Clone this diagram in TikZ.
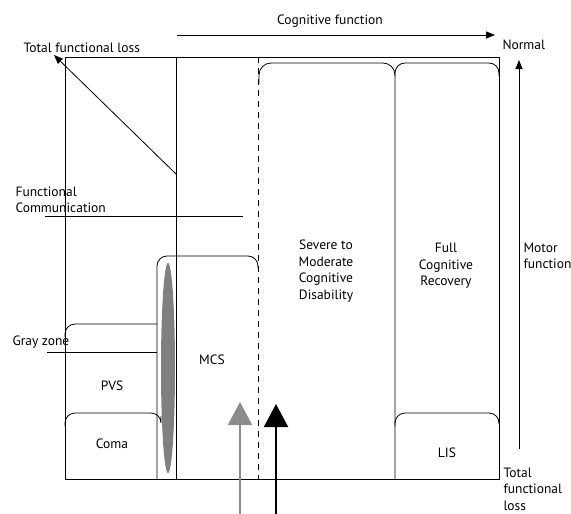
\documentclass[tikz,border=0pt]{standalone}
\usepackage{fontspec}
\setmainfont{PT Sans}
\usepackage{tikz}
\usetikzlibrary{arrows.meta}
\definecolor{zonegray}{HTML}{808080}
\definecolor{arrowgray}{HTML}{8C8C8C}

\begin{document}
\begin{tikzpicture}[x=1pt, y=-1pt, every node/.style={font=\fontsize{13.5}{16.5}\selectfont},
    thinline/.style={line width=0.8pt},
    axisarrow/.style={line width=0.8pt, -{Triangle[length=9pt,width=7pt]}},
    bigarrow/.style={line width=2pt, -{Triangle[length=23pt,width=24pt]}}]
  \useasboundingbox (0,0) rectangle (571,514);
  \coordinate (TL) at (65,57);
  \coordinate (BR) at (499,479);
  \coordinate (IT) at (176,57);
  \coordinate (IB) at (176,479);
  \coordinate (IM) at (176,174);
  \coordinate (DT) at (258,57);
  \coordinate (DB) at (258,479);
  \coordinate (CA) at (177,35);
  \coordinate (CB) at (495,35);
  \coordinate (MA) at (519,449);
  \coordinate (MB) at (519,60);
  \coordinate (LT) at (54,55);
  \coordinate (FA) at (45,216);
  \coordinate (FB) at (243,216);
  \coordinate (GA) at (47,352);
  \coordinate (GB) at (157,352);
  \coordinate (GRA) at (240,514);
  \coordinate (GRB) at (240,402);
  \coordinate (BLA) at (276,514);
  \coordinate (BLB) at (276,404);
  % frame and main dividers
  \draw[thinline] (TL) rectangle (BR);
  \draw[thinline] (IT)--(IB);
  \draw[thinline, dash pattern=on 6pt off 5pt] (DT)--(DB);
  \draw[axisarrow] (IM)--(LT);
  \draw[axisarrow] (CA)--(CB);
  \draw[axisarrow] (MA)--(MB);
  \draw[thinline] (FA)--(FB);
  % boxes with rounded tops
  \draw[thinline, rounded corners=12pt] (259,84) |- (395,63) -- (395,479);
  \draw[thinline, rounded corners=10pt] (395,76) |- (499,63) -- (499,76);
  \draw[thinline, rounded corners=10pt] (395,426) |- (499,413) -- (499,424);
  \draw[thinline, rounded corners=10pt] (157,479) |- (258,256) -- (258,268);
  \draw[thinline, rounded corners=10pt] (65,337) |- (157,324);
  \draw[thinline] (GA)--(GB);
  \draw[thinline, rounded corners=10pt] (65,426) |- (161,413) -- (161,416);
  \fill[zonegray] (168,368) ellipse [x radius=7pt, y radius=105pt];
  % bottom arrows
  \draw[bigarrow, arrowgray] (GRA)--(GRB);
  \draw[bigarrow, black] (BLA)--(BLB);
  % labels
  \node[anchor=west] (tfl) at (20,48) {Total functional loss};
  \node (cog) at (330,21) {Cognitive function};
  \node[anchor=west] (norm) at (499,45) {Normal};
  \node[anchor=west, align=left] (fc) at (12,200) {Functional\\Communication};
  \node[align=center] (sev) at (326,271) {Severe to\\Moderate\\Cognitive\\Disability};
  \node[align=center] (full) at (446,266) {Full\\Cognitive\\Recovery};
  \node[anchor=west, align=left] (mot) at (520,256) {Motor\\function};
  \node[anchor=west] (gz) at (9,342) {Gray zone};
  \node (pvs) at (112,386) {PVS};
  \node (coma) at (112,444) {Coma};
  \node (mcs) at (212,360) {MCS};
  \node (lis) at (447,453) {LIS};
  \node[anchor=west, align=left] (tfl2) at (500,489) {Total\\functional\\loss};
\end{tikzpicture}
\end{document}
